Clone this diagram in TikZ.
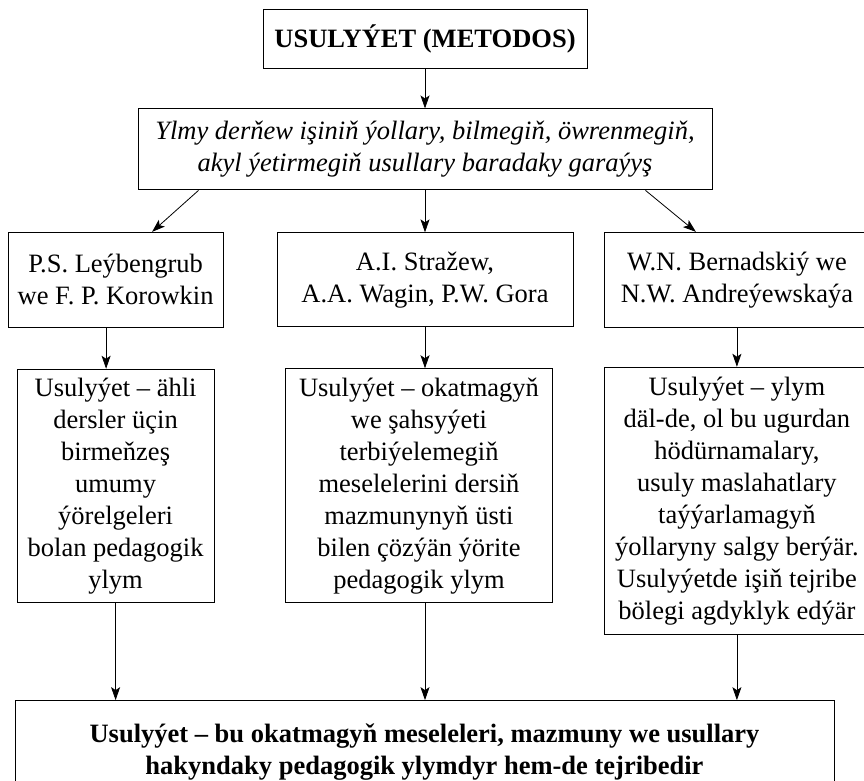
\documentclass[tikz,border=0pt]{standalone}
\usepackage{fontspec}
\setmainfont{Liberation Serif}
\usetikzlibrary{arrows.meta,positioning}
\newcommand{\blockfont}{\fontsize{26.5}{32}\selectfont}

\begin{document}
\begin{tikzpicture}[>={Stealth[length=13pt,width=9pt,inset=3pt]},x=1pt,y=1pt]
        \tikzset{block/.style= {draw, rectangle, align=center, line width=0.9pt, inner sep=2pt, font=\blockfont},
        tblock/.style={block, font=\blockfont\bfseries},
        iblock/.style={block, font=\blockfont\itshape},
        }
        \useasboundingbox (0,0) rectangle (864,-780);
        \node [tblock, minimum width=324pt, minimum height=59pt] (usul) at (425,-38.5) {USULYÝET (METODOS)};
        \node [iblock, minimum width=574pt, minimum height=81pt, below=40pt of usul] (garays) {Ylmy derňew işiniň ýollary, bilmegiň, öwrenmegiň,\\akyl ýetirmegiň usullary baradaky garaýyş};
        \node [block, minimum width=296pt, minimum height=94pt, below=42pt of garays] (strazew) {A.I. Stražew,\\A.A. Wagin, P.W. Gora};
        \node [block, minimum width=215pt, minimum height=95pt, left=53pt of strazew] (leybengrub) {P.S. Leýbengrub\\we F. P. Korowkin};
        \node [block, minimum width=264pt, minimum height=95pt, right=31pt of strazew] (bernadskiy) {W.N. Bernadskiý we\\N.W. Andreýewskaýa};
        \node [block, minimum width=197pt, minimum height=233pt, below=41pt of leybengrub] (ylym1) {Usulyýet – ähli\\dersler üçin\\birmeňzeş\\umumy\\ýörelgeleri\\bolan pedagogik\\ylym};
        \node [block, minimum width=267pt, minimum height=234pt, below=41pt of strazew, xshift=-6pt] (ylym2) {Usulyýet – okatmagyň\\we şahsyýeti\\terbiýelemegiň\\meselelerini dersiň\\mazmunynyň üsti\\bilen çözýän ýörite\\pedagogik ylym};
        \node [block, minimum width=264pt, minimum height=267pt, below=39pt of bernadskiy] (ylym3) {Usulyýet – ylym\\däl-de, ol bu ugurdan\\hödürnamalary,\\usuly maslahatlary\\taýýarlamagyň\\ýollaryny salgy berýär.\\Usulyýetde işiň tejribe\\bölegi agdyklyk edýär};
        \node [tblock, minimum width=819pt, minimum height=102pt, below=97pt of ylym2, xshift=5.5pt] (netije) {Usulyýet – bu okatmagyň meseleleri, mazmuny we usullary\\hakyndaky pedagogik ylymdyr hem-de tejribedir};

%% paths
        \path[->,line width=0.8pt] (usul) edge (garays)
                    ([xshift=61pt]garays.south west) edge ([xshift=36.5pt]leybengrub.north)
                    (garays) edge (strazew)
                    ([xshift=-67pt]garays.south east) edge ([xshift=-41pt]bernadskiy.north)
                    ([xshift=-9.5pt]leybengrub.south) edge ([xshift=-9.5pt]ylym1.north)
                    (strazew.south) edge (strazew.south |- ylym2.north)
                    (bernadskiy) edge (ylym3)
                    (ylym1) edge (ylym1 |- netije.north)
                    (strazew.south |- ylym2.south) edge (strazew.south |- netije.north)
                    (ylym3) edge (ylym3 |- netije.north)
                    ;
    \end{tikzpicture}
\end{document}
